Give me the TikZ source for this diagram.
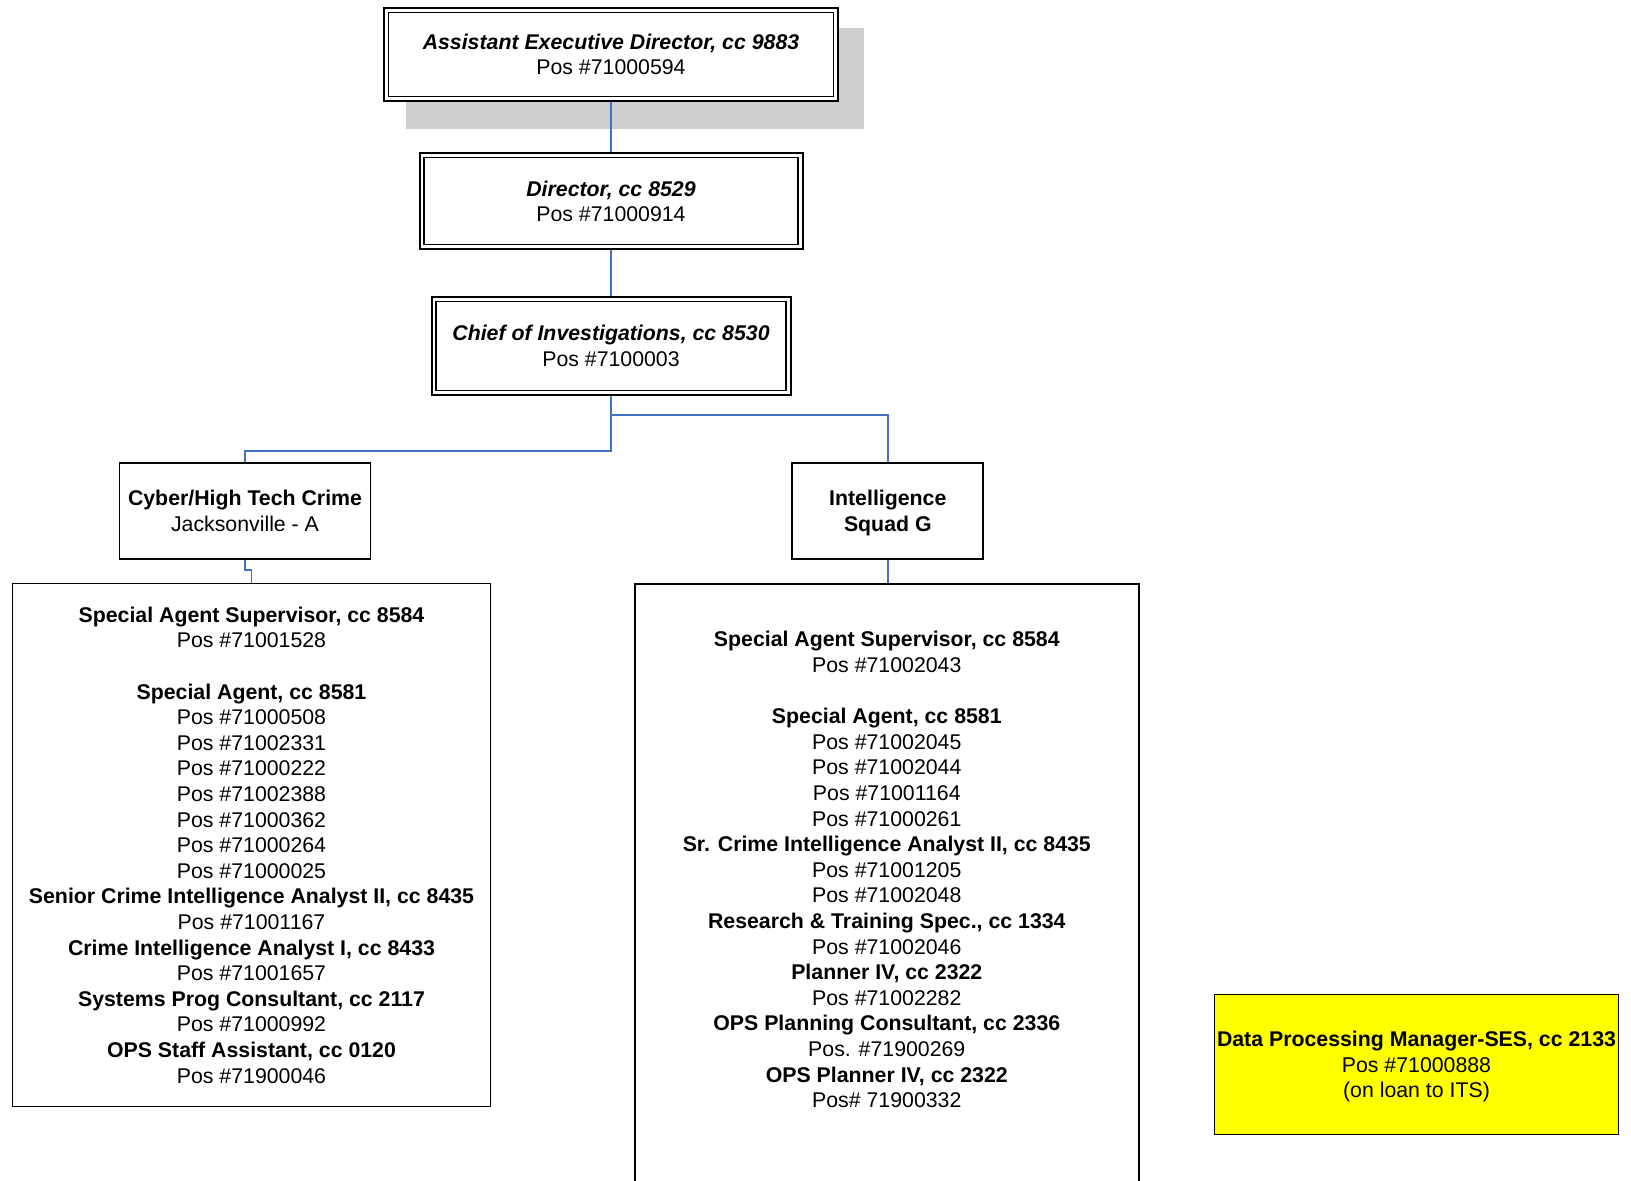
\documentclass[tikz,border=0pt]{standalone}
\usepackage{fontspec}
\setmainfont{Liberation Sans}
\usetikzlibrary{backgrounds}
\definecolor{linkblue}{RGB}{68,114,196}
\definecolor{shadowgray}{RGB}{206,206,206}
\definecolor{loanyellow}{RGB}{255,255,0}

\begin{document}
\begin{tikzpicture}[x=1pt,y=-1pt,
  every node/.style={font=\fontsize{21.3}{25.6}\selectfont, inner sep=0pt, align=center},
  headbox/.style={draw, line width=2pt, fill=white},
  unitbox/.style={draw, line width=1.8pt, fill=white},
  listbox/.style={draw, line width=1.8pt},
  loanbox/.style={draw, line width=1.8pt, fill=loanyellow},
  link/.style={draw=linkblue, line width=1.6pt},
]
% page
\path[use as bounding box] (0,0) rectangle (1631,1181);

% connectors
\coordinate (splitR) at (611,415);
\coordinate (splitL) at (611,451);
\coordinate (jog) at (248,570);

% command chain
\node[headbox, minimum width=453.7pt, minimum height=93.6pt]
  (aed) at (611,54.5) {\textbf{\textit{Assistant Executive Director, cc 9883}}\\Pos \#71000594};
\node[headbox, minimum width=383pt, minimum height=95.7pt]
  (dir) at (611,201.2) {\textbf{\textit{Director, cc 8529}}\\Pos \#71000914};
\node[headbox, minimum width=359pt, minimum height=98pt]
  (chief) at (611,345.7) {\textbf{\textit{Chief of Investigations, cc 8530}}\\Pos \#7100003};

% inner frames of the double borders
\foreach \n in {aed,dir,chief}
  \draw[line width=1.2pt] ([shift={(5.5,5.5)}]\n.north west) rectangle ([shift={(-5.5,-5.5)}]\n.south east);

% white page and the drop shadow of the top box
\begin{scope}[on background layer]
  \fill[white] (0,0) rectangle (1631,1181);
  \fill[shadowgray] ([xshift=22.4pt, yshift=-21.3pt]aed.north west)
    rectangle ([xshift=24.7pt, yshift=-27pt]aed.south east);
\end{scope}

% units
\node[unitbox, minimum width=251pt, minimum height=96pt]
  (cyber) at (245,511) {\textbf{Cyber/High Tech Crime}\\Jacksonville - A};
\node[unitbox, minimum width=191pt, minimum height=96pt, text depth=0pt]
  (intel) at (887.8,511) {\textbf{Intelligence}\\\textbf{Squad G}};

% position lists
\node[listbox, minimum width=478pt, minimum height=523pt]
  (cyberbody) at (251.5,845) {%
  \textbf{Special Agent Supervisor, cc 8584}\\
  Pos \#71001528\\[25.6pt]
  \textbf{Special Agent, cc 8581}\\
  Pos \#71000508\\
  Pos \#71002331\\
  Pos \#71000222\\
  Pos \#71002388\\
  Pos \#71000362\\
  Pos \#71000264\\
  Pos \#71000025\\
  \textbf{Senior Crime Intelligence Analyst II, cc 8435}\\
  Pos \#71001167\\
  \textbf{Crime Intelligence Analyst I, cc 8433}\\
  Pos \#71001657\\
  \textbf{Systems Prog Consultant, cc 2117}\\
  Pos \#71000992\\
  \textbf{OPS Staff Assistant, cc 0120}\\
  Pos \#71900046};

\node[listbox, minimum width=504pt, minimum height=620pt, anchor=north]
  (intelbody) at (886.8,583) {};
\node (intellist) at (886.8,869.6) {%
  \textbf{Special Agent Supervisor, cc 8584}\\
  Pos \#71002043\\[25.6pt]
  \textbf{Special Agent, cc 8581}\\
  Pos \#71002045\\
  Pos \#71002044\\
  Pos \#71001164\\
  Pos \#71000261\\
  \textbf{Sr. Crime Intelligence Analyst II, cc 8435}\\
  Pos \#71001205\\
  Pos \#71002048\\
  \textbf{Research \& Training Spec., cc 1334}\\
  Pos \#71002046\\
  \textbf{Planner IV, cc 2322}\\
  Pos \#71002282\\
  \textbf{OPS Planning Consultant, cc 2336}\\
  Pos. \#71900269\\
  \textbf{OPS Planner IV, cc 2322}\\
  Pos\# 71900332};

% position on loan
\node[loanbox, minimum width=404pt, minimum height=140pt, text depth=0pt]
  (loan) at (1416.5,1064.5) {\textbf{Data Processing Manager-SES, cc 2133}\\Pos \#71000888\\(on loan to ITS)};

% reporting lines
\draw[link] (aed.south) -- (dir.north);
\draw[link] (dir.south) -- (chief.north);
\draw[link] (chief.south) -- (splitR) -| (intel.north);
\draw[link] (chief.south) -- (splitL) -| (cyber.north);
\draw[link] (cyber.south) |- (jog) -| (cyberbody.north);
\draw[link] (intel.south) -- (intel.south |- intelbody.north);
\end{tikzpicture}
\end{document}
